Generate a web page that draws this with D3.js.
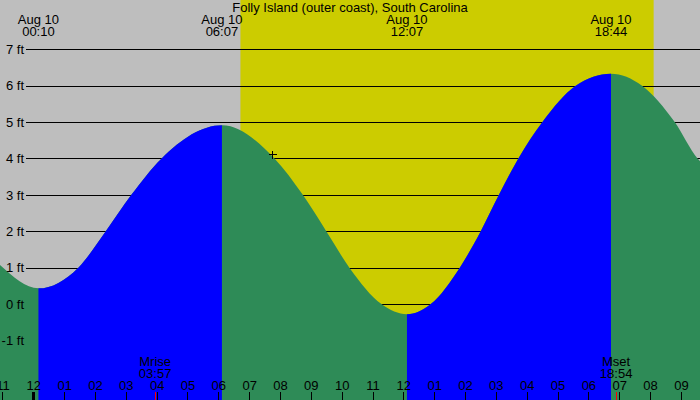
<!DOCTYPE html>
<html>
<head>
<meta charset="utf-8">
<script src="https://cdn.jsdelivr.net/npm/d3@7"></script>
<style>
  body { margin: 0; background: #fff; }
  svg { display: block; font-family: "Liberation Sans", Arial, sans-serif; font-size: 13px; }
</style>
</head>
<body>
<script>
// Datos (horas desde la medianoche del 10 de agosto)
const title = "Folly Island (outer coast), South Carolina";
const tideHours = [-1.08, 0.17, 1.46, 2.35, 3.18, 4.16, 6.12, 7.82, 8.74, 9.50, 10.25, 11.29, 12.12,
                   12.89, 13.83, 14.51, 15.10, 15.73, 16.51, 17.59, 18.73, 19.74, 20.80, 21.54, 21.65];
const tideFeet  = [1.07, 0.43, 1.0, 2.0, 3.0, 4.0, 4.91, 4.0, 3.0, 2.0, 1.0, 0.0, -0.28,
                   0.0, 1.0, 2.0, 3.0, 4.0, 5.0, 6.0, 6.33, 6.0, 5.0, 4.0, 3.9];
const extremeTimes = ["00:10", "06:07", "12:07", "18:44"];
const extremeKinds = ["low", "high", "low", "high"];
const extremeDates = ["Aug 10", "Aug 10", "Aug 10", "Aug 10"];
const sunTimes = ["06:43", "20:07"];          // salida y puesta del sol
const moonNames = ["Mrise", "Mset"];
const moonTimes = ["03:57", "18:54"];
const feetTicks = [-1, 0, 1, 2, 3, 4, 5, 6, 7];
const nowTime = "07:46";
const nowFeet = 4.1;

const width = 700;
const height = 400;
const font = "'Liberation Sans', Arial, sans-serif";

const hm = s => { const [h, m] = s.split(":").map(Number); return h + m / 60; };

const x = d3.scaleLinear().domain([-1.08, 21.62]).range([0, width]);
const y = d3.scaleLinear().domain([-1, 7]).range([340.4, 49.3]);
const hourTicks = d3.range(-1, 22);

const svg = d3.select("body").append("svg")
    .attr("width", width)
    .attr("height", height);

// Fondo: noche gris, día amarillo
svg.append("rect").attr("width", width).attr("height", height).attr("fill", "#bebebe");
svg.append("rect")
    .attr("x", x(hm(sunTimes[0])))
    .attr("width", x(hm(sunTimes[1])) - x(hm(sunTimes[0])))
    .attr("height", height)
    .attr("fill", "#cccc00");

// Líneas de la cuadrícula (debajo del área)
svg.append("g")
    .attr("transform", "translate(26,0)")
    .call(d3.axisLeft(y).tickValues(feetTicks).tickSize(-(width - 26)).tickFormat(""))
    .call(g => g.select(".domain").remove())
    .call(g => g.selectAll("line").attr("stroke", "#000").attr("shape-rendering", "crispEdges"));

// Área de la marea
const tide = tideHours.map((h, i) => ({ h, f: tideFeet[i] }));
const area = d3.area()
    .x(d => x(d.h))
    .y0(height)
    .y1(d => y(d.f))
    .curve(d3.curveMonotoneX);

// Tramos de subida (bajamar -> pleamar) en azul
const defs = svg.append("defs");
const clip = defs.append("clipPath").attr("id", "rising");
extremeTimes.forEach((t, i) => {
    if (extremeKinds[i] === "low") {
        const t0 = hm(t);
        const t1 = i + 1 < extremeTimes.length ? hm(extremeTimes[i + 1]) : x.domain()[1];
        clip.append("rect")
            .attr("x", x(t0)).attr("y", 0)
            .attr("width", x(t1) - x(t0)).attr("height", height);
    }
});

svg.append("path").datum(tide).attr("d", area).attr("fill", "#2e8b57");
svg.append("path").datum(tide).attr("d", area).attr("fill", "#0000ff").attr("clip-path", "url(#rising)");

// Etiquetas del eje vertical
svg.append("g")
    .attr("transform", "translate(26,0)")
    .call(d3.axisLeft(y).tickValues(feetTicks).tickSize(0).tickPadding(2).tickFormat(d => d + " ft"))
    .call(g => g.select(".domain").remove())
    .call(g => g.selectAll("text").attr("fill", "#000").style("font-size", "13px").style("font-family", font));

// Título
svg.append("text")
    .attr("x", width / 2).attr("y", 12)
    .attr("text-anchor", "middle")
    .text(title);

// Horas de pleamar y bajamar arriba
const topLabels = svg.append("g").attr("text-anchor", "middle");
extremeTimes.forEach((t, i) => {
    topLabels.append("text").attr("x", x(hm(t))).attr("y", 24).text(extremeDates[i]);
    topLabels.append("text").attr("x", x(hm(t))).attr("y", 36).text(t);
});

// Eje de horas abajo
const fmtHour = h => String(((h % 12) + 12) % 12 || 12).padStart(2, "0");
svg.append("g")
    .attr("transform", `translate(0,${height})`)
    .call(d3.axisTop(x).tickValues(hourTicks).tickSize(8).tickPadding(2).tickFormat(fmtHour))
    .call(g => g.select(".domain").remove())
    .call(g => g.selectAll("line").attr("stroke", "#000").attr("shape-rendering", "crispEdges")
        .attr("stroke-width", d => d % 24 === 0 ? 3 : 1))
    .call(g => g.selectAll("text").attr("fill", "#000").style("font-size", "13px").style("font-family", font));

// Luna
moonTimes.forEach((t, i) => {
    const mx = x(hm(t));
    svg.append("text").attr("x", mx).attr("y", 366).attr("text-anchor", "middle").text(moonNames[i]);
    svg.append("text").attr("x", mx).attr("y", 378).attr("text-anchor", "middle").text(t);
    svg.append("line")
        .attr("x1", mx).attr("x2", mx).attr("y1", 392).attr("y2", height)
        .attr("stroke", "#ff0000").attr("shape-rendering", "crispEdges");
});

// Marca de la hora actual
const px = x(hm(nowTime)), py = y(nowFeet);
svg.append("path")
    .attr("d", `M${px - 4},${py}H${px + 4}M${px},${py - 4}V${py + 4}`)
    .attr("stroke", "#000")
    .attr("shape-rendering", "crispEdges");
</script>
</body>
</html>
